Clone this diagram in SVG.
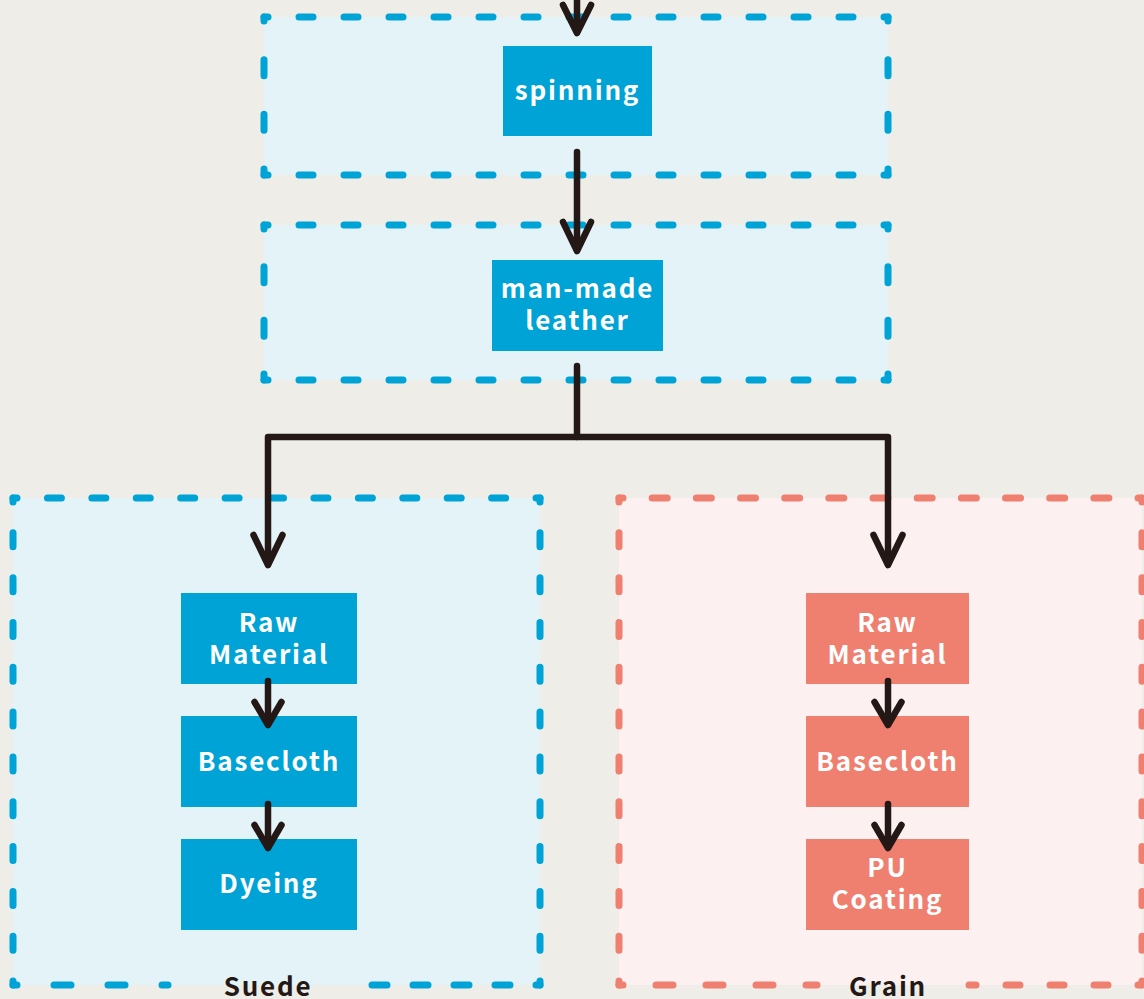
<svg xmlns="http://www.w3.org/2000/svg" width="1144" height="999" viewBox="0 0 1144 999">
<style>
.bg{fill:#EEEDE8}
.cb{fill:#E3F3F8}
.cr{fill:#FDF0F0}
.db{stroke:#00A3D6;stroke-width:7;stroke-linecap:round;fill:none}
.dr{stroke:#EF7F6F;stroke-width:7;stroke-linecap:round;fill:none}
.nb{fill:#00A3D6}
.nr{fill:#EF7F6F}
.t{font-family:"Noto Sans CJK SC","Noto Sans",sans-serif;font-weight:700;font-size:26px;letter-spacing:1.8px;fill:#FFFFFF;text-anchor:middle}
.lbl{font-family:"Noto Sans CJK SC","Noto Sans",sans-serif;font-weight:700;font-size:26px;letter-spacing:1.8px;fill:#231815;text-anchor:middle}
.c{stroke:#231815;stroke-width:6.5;stroke-linecap:round;stroke-linejoin:round;fill:none}
</style>
<rect class="bg" x="0" y="0" width="1144" height="999"/>

<g id="container-spinning">
<rect class="cb" x="264" y="17" width="624" height="158"/>
<line class="db" x1="264" y1="17" x2="888" y2="17" stroke-dasharray="14 31" stroke-dashoffset="10"/>
<line class="db" x1="264" y1="175" x2="888" y2="175" stroke-dasharray="14 31" stroke-dashoffset="10"/>
<line class="db" x1="264" y1="17" x2="264" y2="175" stroke-dasharray="16 38.67" stroke-dashoffset="12"/>
<line class="db" x1="888" y1="17" x2="888" y2="175" stroke-dasharray="16 38.67" stroke-dashoffset="12"/>
</g>

<g id="container-leather">
<rect class="cb" x="264" y="225" width="624" height="155"/>
<line class="db" x1="264" y1="225" x2="888" y2="225" stroke-dasharray="14 31" stroke-dashoffset="10"/>
<line class="db" x1="264" y1="380" x2="888" y2="380" stroke-dasharray="14 31" stroke-dashoffset="10"/>
<line class="db" x1="264" y1="225" x2="264" y2="380" stroke-dasharray="16 37.67" stroke-dashoffset="12"/>
<line class="db" x1="888" y1="225" x2="888" y2="380" stroke-dasharray="16 37.67" stroke-dashoffset="12"/>
</g>

<g id="container-suede">
<rect class="cb" x="13" y="498" width="527" height="487"/>
<line class="db" x1="13" y1="498" x2="540" y2="498" stroke-dasharray="14 30.42" stroke-dashoffset="10"/>
<line class="db" x1="13" y1="498" x2="13" y2="985" stroke-dasharray="14 30.82" stroke-dashoffset="10"/>
<line class="db" x1="540" y1="498" x2="540" y2="985" stroke-dasharray="14 30.82" stroke-dashoffset="10"/>
<line class="db" x1="13" y1="985" x2="168" y2="985" stroke-dasharray="17 37" stroke-dashoffset="13"/>
<line class="db" x1="540" y1="985" x2="372" y2="985" stroke-dasharray="15 26" stroke-dashoffset="11"/>
<text class="lbl" x="268" y="996">Suede</text>
</g>

<g id="container-grain">
<rect class="cr" x="619" y="498" width="523" height="487"/>
<line class="dr" x1="619" y1="498" x2="1142" y2="498" stroke-dasharray="15 29.17" stroke-dashoffset="11"/>
<line class="dr" x1="619" y1="498" x2="619" y2="985" stroke-dasharray="14 30.82" stroke-dashoffset="10"/>
<line class="dr" x1="1142" y1="498" x2="1142" y2="985" stroke-dasharray="14 30.82" stroke-dashoffset="10"/>
<line class="dr" x1="619" y1="985" x2="817" y2="985" stroke-dasharray="17 33" stroke-dashoffset="13"/>
<line class="dr" x1="1142" y1="985" x2="969" y2="985" stroke-dasharray="14 30" stroke-dashoffset="10"/>
<text class="lbl" x="888" y="996">Grain</text>
</g>

<g id="node-spinning">
<rect class="nb" x="503" y="46" width="149" height="90"/>
<text class="t" x="577.5" y="100">spinning</text>
</g>
<g id="node-leather">
<rect class="nb" x="492" y="260" width="171" height="91"/>
<text class="t" x="577.5" y="298">man-made</text>
<text class="t" x="577.5" y="330">leather</text>
</g>
<g id="node-suede-raw">
<rect class="nb" x="181" y="593" width="176" height="91"/>
<text class="t" x="269" y="632">Raw</text>
<text class="t" x="269" y="664">Material</text>
</g>
<g id="node-suede-basecloth">
<rect class="nb" x="181" y="716" width="176" height="91"/>
<text class="t" x="269" y="771">Basecloth</text>
</g>
<g id="node-suede-dyeing">
<rect class="nb" x="181" y="839" width="176" height="91"/>
<text class="t" x="269" y="893">Dyeing</text>
</g>
<g id="node-grain-raw">
<rect class="nr" x="806" y="593" width="163" height="91"/>
<text class="t" x="887.5" y="632">Raw</text>
<text class="t" x="887.5" y="664">Material</text>
</g>
<g id="node-grain-basecloth">
<rect class="nr" x="806" y="716" width="163" height="91"/>
<text class="t" x="887.5" y="771">Basecloth</text>
</g>
<g id="node-grain-pu">
<rect class="nr" x="806" y="839" width="163" height="91"/>
<text class="t" x="887.5" y="877">PU</text>
<text class="t" x="887.5" y="909">Coating</text>
</g>

<g id="connectors">
<line class="c" x1="577" y1="-5" x2="577" y2="32"/>
<polyline class="c" points="563,5 577,33 591,5"/>
<line class="c" x1="577" y1="152" x2="577" y2="250"/>
<polyline class="c" points="563,222 577,251 591,222"/>
<polyline class="c" points="577,366 577,437 268,437 268,564"/>
<polyline class="c" points="577,437 888,437 888,564"/>
<polyline class="c" points="253.5,535 268,565 282.5,535"/>
<polyline class="c" points="873.5,535 888,565 902.5,535"/>
<line class="c" x1="268" y1="681" x2="268" y2="724"/>
<polyline class="c" points="254.5,702 268,725 281.5,702"/>
<line class="c" x1="268" y1="804" x2="268" y2="847"/>
<polyline class="c" points="254.5,825 268,848 281.5,825"/>
<line class="c" x1="888" y1="681" x2="888" y2="724"/>
<polyline class="c" points="874.5,702 888,725 901.5,702"/>
<line class="c" x1="888" y1="804" x2="888" y2="847"/>
<polyline class="c" points="874.5,825 888,848 901.5,825"/>
</g>
</svg>
